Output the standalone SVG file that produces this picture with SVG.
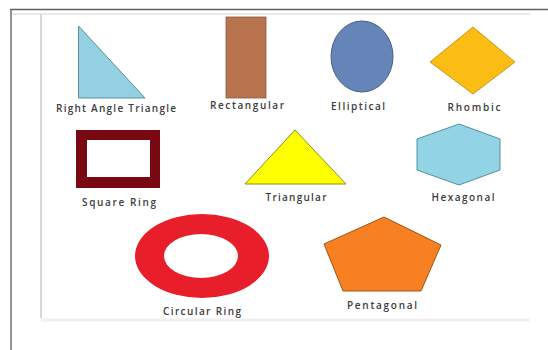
<svg xmlns="http://www.w3.org/2000/svg" width="548" height="350" viewBox="0 0 548 350">
<style>
.lbl{font-family:"Open Sans","Liberation Sans",sans-serif;font-size:10px;fill:#3c3c3c;text-anchor:middle;font-weight:600}
</style>
<rect width="548" height="350" fill="#ffffff"/>
<g id="frame">
<line x1="10" y1="9.5" x2="548" y2="9.5" stroke="#606060" stroke-width="1.5"/>
<line x1="11" y1="9" x2="11" y2="350" stroke="#707070" stroke-width="1.5"/>
<line x1="12" y1="14" x2="530" y2="14" stroke="#e2e2e2" stroke-width="1.5"/>
<line x1="41" y1="14" x2="41" y2="318" stroke="#d6d6d6" stroke-width="2"/>
<line x1="41" y1="320" x2="530" y2="320" stroke="#f0f0f0" stroke-width="3"/>
</g>
<g id="right-triangle">
<polygon points="78.5,26 78.5,98 145,98" fill="#92d0e2" stroke="#5f8f9c" stroke-width="1"/>
<text class="lbl" x="116" y="111.5" textLength="120" lengthAdjust="spacing">Right Angle Triangle</text>
</g>
<g id="rectangular">
<rect x="226" y="17" width="40" height="81" fill="#b8744e" stroke="#8a5a3e" stroke-width="0.8"/>
<text class="lbl" x="247" y="108.5" textLength="74" lengthAdjust="spacing">Rectangular</text>
</g>
<g id="elliptical">
<ellipse cx="362" cy="56.5" rx="31" ry="35.5" fill="#6585b8" stroke="#45607e" stroke-width="1"/>
<text class="lbl" x="358" y="109.5" textLength="54" lengthAdjust="spacing">Elliptical</text>
</g>
<g id="rhombic">
<polygon points="473,27 515,62 473,94 430,62" fill="#fbbc14" stroke="#c49a20" stroke-width="1"/>
<text class="lbl" x="474" y="110.5" textLength="53" lengthAdjust="spacing">Rhombic</text>
</g>
<g id="square-ring">
<path d="M76,130 H160 V188 H76 Z M87,140 V177 H150 V140 Z" fill="#7a0812" fill-rule="evenodd"/>
<text class="lbl" x="119" y="205.5" textLength="74" lengthAdjust="spacing">Square Ring</text>
</g>
<g id="triangular">
<polygon points="295,130 346,184 245,184" fill="#ffff00" stroke="#8c8c20" stroke-width="1"/>
<text class="lbl" x="296" y="200.5" textLength="61" lengthAdjust="spacing">Triangular</text>
</g>
<g id="hexagonal">
<polygon points="459,124 500,139 500,170 459,185 417,170 417,139" fill="#93d3e6" stroke="#55909e" stroke-width="1"/>
<text class="lbl" x="463" y="200.5" textLength="63" lengthAdjust="spacing">Hexagonal</text>
</g>
<g id="circular-ring">
<path d="M135,256 A67,42 0 1 0 269,256 A67,42 0 1 0 135,256 Z M164,256 A37,22 0 1 1 238,256 A37,22 0 1 1 164,256 Z" fill="#e81e2a" fill-rule="evenodd"/>
<text class="lbl" x="202" y="314.5" textLength="78" lengthAdjust="spacing">Circular Ring</text>
</g>
<g id="pentagonal">
<polygon points="384,217 441,245 421,291 343,291 324,244" fill="#f78022" stroke="#9a5518" stroke-width="1"/>
<text class="lbl" x="382" y="308.5" textLength="70" lengthAdjust="spacing">Pentagonal</text>
</g>
<g id="connectors"/>
</svg>
